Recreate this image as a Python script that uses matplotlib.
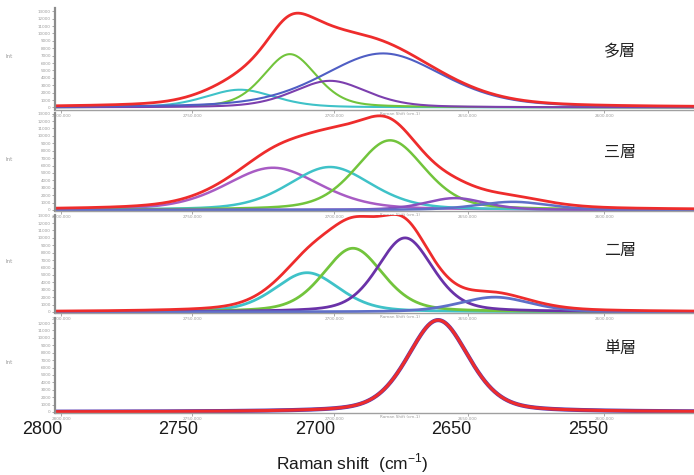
import numpy as np
import matplotlib
matplotlib.use("Agg")
import matplotlib.pyplot as plt

# peak fit components: centre (cm-1), FWHM (cm-1), height (counts)
layers = ["多層", "三層", "二層", "単層"]

multi_centre = [2727.5, 2709.2, 2694.5, 2675.1]
multi_fwhm = [30, 23, 32, 52]
multi_height = [2400, 7200, 3600, 7300]
multi_color = ["#3fc2c8", "#72c43c", "#7c3fae", "#4f5ec4"]

tri_centre = [2715.4, 2694.5, 2672.5, 2648.7, 2627.5]
tri_fwhm = [41, 36, 30, 26, 31]
tri_height = [5700, 5800, 9400, 1600, 1100]
tri_color = ["#a85cc4", "#3fc2c8", "#72c43c", "#8a4fbe", "#5f6fc8"]

bi_centre = [2702.9, 2686.1, 2667.0, 2634.1]
bi_fwhm = [28, 26, 24, 31]
bi_height = [5300, 8600, 10000, 2000]
bi_color = ["#3fc2c8", "#72c43c", "#6a32a8", "#5f6fc8"]

mono_centre = [2654.9]
mono_fwhm = [26.5]
mono_height = [12400]
mono_color = ["#5a3cb0"]

# tick labels
big_ticks = [2800, 2750, 2700, 2650, 2600]
big_labels = ["2800", "2750", "2700", "2650", "2550"]
inner_ticks = [2793, 2745, 2693, 2644, 2594]
inner_labels = ["2800.000", "2750.000", "2700.000", "2650.000", "2600.000"]

W, H = 694, 475
PX_PER_UNIT = 2.73   # px per cm-1 of the overlay labels
X_2800 = 42          # px position of the "2800" label


def px2x(px):
    return 2800 - (px - X_2800) / PX_PER_UNIT


def profile(x, c, w, h, eta=0.35):
    u = ((x - c) / w) ** 2
    return h * (eta / (1 + 4 * u) + (1 - eta) * np.exp(-4 * np.log(2) * u))


fig = plt.figure(figsize=(W / 100, H / 100), dpi=100)
fig.patch.set_facecolor("white")

x = np.linspace(px2x(55), px2x(W), 1200)
panels = [
    (8, 110, 340, multi_centre, multi_fwhm, multi_height, multi_color, 1.5),
    (113, 211, 140, tri_centre, tri_fwhm, tri_height, tri_color, 1.8),
    (215, 313, 140, bi_centre, bi_fwhm, bi_height, bi_color, 2.0),
    (318, 413, 140, mono_centre, mono_fwhm, mono_height, mono_color, 3.0),
]
label_y = [52, 153, 250, 348]

for i, (top, bot, base, cs, ws, hs, cols, lw) in enumerate(panels):
    ax = fig.add_axes([55 / W, 1 - bot / H, 639 / W, (bot - top) / H])
    total = np.zeros_like(x)
    for c, w, h, col in zip(cs, ws, hs, cols):
        y = profile(x, c, w, h)
        total += y
        ax.plot(x, y, color=col, lw=lw, solid_capstyle="round")
    ax.plot(x, total, color="#ee2c2c", lw=2.0 if i < 3 else 2.2)

    ax.set_xlim(px2x(55), px2x(W))
    ax.set_ylim(-base, -base + (bot - top) * 135)
    yt = np.arange(0, (bot - top) * 135 - base, 1000)
    ax.set_yticks(yt)
    ax.set_yticklabels(["%d" % v for v in yt])
    ax.set_xticks(inner_ticks)
    ax.set_xticklabels(inner_labels)
    ax.tick_params(axis="both", labelsize=3, colors="#9a9a9a", length=2, width=0.6, pad=1)
    ax.set_xlabel("Raman Shift (cm-1)", fontsize=3, color="#9a9a9a", labelpad=0)
    ax.xaxis.set_label_coords(0.54, -0.02)
    ax.set_ylabel("Int", fontsize=4, color="#9a9a9a", rotation=0, labelpad=0)
    ax.yaxis.set_label_coords(-0.072, 0.5)
    for s in ["top", "right"]:
        ax.spines[s].set_visible(False)
    ax.spines["left"].set_color("#8c8c8c")
    ax.spines["left"].set_linewidth(1.6)
    ax.spines["bottom"].set_color("#a0a0a0")
    ax.spines["bottom"].set_linewidth(1.0)
    ax.patch.set_alpha(0)

    fig.text(620 / W, 1 - label_y[i] / H, layers[i], fontsize=11.5, ha="center", va="center",
             family=["Noto Sans CJK JP", "DejaVu Sans"], color="#222222",
             bbox=dict(facecolor="white", edgecolor="none", pad=2))

# overlay axis labels underneath the panels
lab = fig.add_axes([0, 1 - 421 / H, 1, 0.0001])
lab.set_xlim(px2x(0), px2x(W))
lab.set_xticks(big_ticks)
lab.set_xticklabels(big_labels, family=["Liberation Sans", "DejaVu Sans"], fontsize=13, color="#1a1a1a")
lab.tick_params(axis="x", length=0, pad=0)
lab.set_yticks([])
for s in lab.spines.values():
    s.set_visible(False)

fig.text(352 / W, 1 - 463 / H, "Raman shift  (cm$^{\\mathregular{-1}}$)", ha="center", va="center",
         fontsize=12.5, family=["Liberation Sans", "DejaVu Sans"], color="#1a1a1a")

fig.savefig("out.png", dpi=100, facecolor="white")
